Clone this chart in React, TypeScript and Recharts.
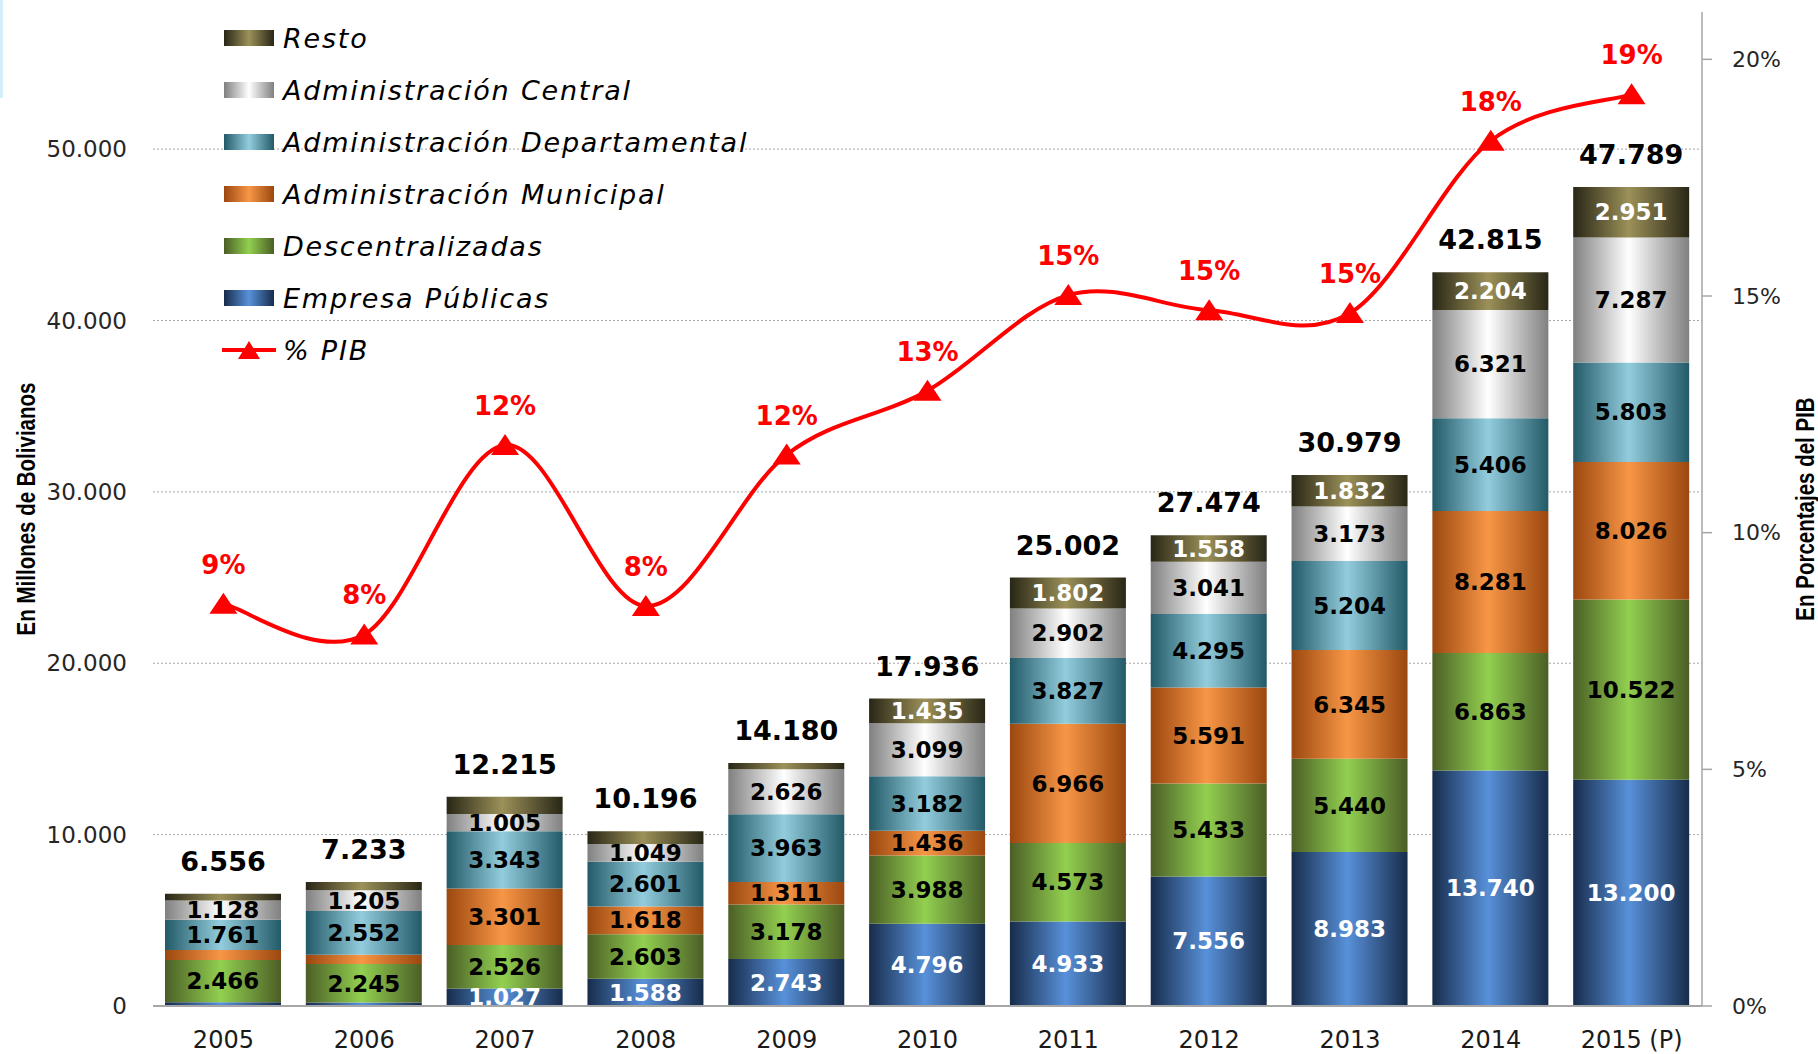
import { Bar, CartesianGrid, ComposedChart, LabelList, Legend, Line, XAxis, YAxis } from "recharts";

const years = ["2005", "2006", "2007", "2008", "2009", "2010", "2011", "2012", "2013", "2014", "2015 (P)"];

// millones de Bs
const empresa = [220, 200, 1027, 1588, 2743, 4796, 4933, 7556, 8983, 13740, 13200];
const descentralizadas = [2466, 2245, 2526, 2603, 3178, 3988, 4573, 5433, 5440, 6863, 10522];
const municipal = [580, 550, 3301, 1618, 1311, 1436, 6966, 5591, 6345, 8281, 8026];
const departamental = [1761, 2552, 3343, 2601, 3963, 3182, 3827, 4295, 5204, 5406, 5803];
const central = [1128, 1205, 1005, 1049, 2626, 3099, 2902, 3041, 3173, 6321, 7287];
const resto = [400, 480, 1013, 737, 359, 1435, 1802, 1558, 1832, 2204, 2951];
const totals = [6556, 7233, 12215, 10196, 14180, 17936, 25002, 27474, 30979, 42815, 47789];

// % del PIB
const pib = [8.5, 7.85, 11.85, 8.45, 11.65, 13.0, 15.02, 14.7, 14.64, 18.28, 19.26];

const leftMax = 58000;
const leftTicks = [0, 10000, 20000, 30000, 40000, 50000];
const rightTicks = [0, 5, 10, 15, 20];

// segments printed without a value label in the original
const unlabeled: Record<string, string[]> = {
  empresa: ["2005", "2006"],
  municipal: ["2005", "2006"],
  resto: ["2005", "2006", "2007", "2008", "2009"],
};

const series = [
  { key: "empresa", name: "Empresa Públicas", values: empresa, dark: "#172c4b", light: "#5891da", text: "#ffffff" },
  { key: "descentralizadas", name: "Descentralizadas", values: descentralizadas, dark: "#4b5e26", light: "#92d050", text: "#000000" },
  { key: "municipal", name: "Administración Municipal", values: municipal, dark: "#9b470f", light: "#f79646", text: "#000000" },
  { key: "departamental", name: "Administración Departamental", values: departamental, dark: "#235a68", light: "#93cddd", text: "#000000" },
  { key: "central", name: "Administración Central", values: central, dark: "#808080", light: "#ffffff", text: "#000000" },
  { key: "resto", name: "Resto", values: resto, dark: "#282616", light: "#9c9159", text: "#ffffff" },
];

const fmt = (v: number) => String(v).replace(/\B(?=(\d{3})+(?!\d))/g, ".");

const data = years.map((year, i) => {
  const row: Record<string, string | number | null> = { year, total: totals[i], pib: pib[i] };
  series.forEach((s) => {
    row[s.key] = s.values[i];
    row[`${s.key}Label`] = (unlabeled[s.key] || []).includes(year) ? null : fmt(s.values[i]);
  });
  return row;
});

// Excel-like smoothed line (Catmull-Rom through every point)
function smoothCurve(context: any) {
  let pts: number[][] = [];
  return {
    areaStart() {},
    areaEnd() {},
    lineStart() {
      pts = [];
    },
    point(x: number, y: number) {
      pts.push([+x, +y]);
    },
    lineEnd() {
      if (!pts.length) return;
      context.moveTo(pts[0][0], pts[0][1]);
      for (let i = 0; i < pts.length - 1; i++) {
        const p0 = pts[i - 1] || pts[i];
        const p1 = pts[i];
        const p2 = pts[i + 1];
        const p3 = pts[i + 2] || p2;
        context.bezierCurveTo(
          p1[0] + (p2[0] - p0[0]) / 6,
          p1[1] + (p2[1] - p0[1]) / 6,
          p2[0] - (p3[0] - p1[0]) / 6,
          p2[1] - (p3[1] - p1[1]) / 6,
          p2[0],
          p2[1]
        );
      }
    },
  };
}

function Triangle(props: any) {
  const { cx, cy } = props;
  if (cx == null || cy == null) return null;
  return <path d={`M${cx},${cy - 11}L${cx + 14},${cy + 10}L${cx - 14},${cy + 10}Z`} fill="#ff0000" />;
}

// condensed bold title, rotated to read bottom-up
function axisTitle(text: string, dx: number) {
  return (props: any) => {
    const vb = props.viewBox;
    const x = vb.x + dx;
    const y = vb.y + vb.height / 2;
    return (
      <text
        transform={`translate(${x} ${y}) rotate(-90) scale(0.82 1)`}
        textAnchor="middle"
        dominantBaseline="central"
        fontFamily="Liberation Sans, Arial, sans-serif"
        fontWeight="bold"
        fontSize={25}
        fill="#000"
      >
        {text}
      </text>
    );
  };
}

function LegendBox() {
  const rowStyle = { display: "flex", alignItems: "center", height: 52 };
  const textStyle = {
    fontFamily: "DejaVu Sans",
    fontStyle: "italic" as const,
    fontSize: 27,
    letterSpacing: 1.8,
    color: "#000",
    marginLeft: 9,
    whiteSpace: "nowrap" as const,
  };
  return (
    <div>
      {[...series].reverse().map((s) => (
        <div key={s.key} style={rowStyle}>
          <div
            style={{
              width: 50,
              height: 16,
              background: `linear-gradient(to right, ${s.dark}, ${s.light} 50%, ${s.dark})`,
            }}
          />
          <span style={textStyle}>{s.name}</span>
        </div>
      ))}
      <div style={rowStyle}>
        <svg width={50} height={24} style={{ overflow: "visible" }}>
          <line x1={-2} y1={12} x2={52} y2={12} stroke="#ff0000" strokeWidth={4} />
          <path d="M25,3L36,21L14,21Z" fill="#ff0000" />
        </svg>
        <span style={textStyle}>% PIB</span>
      </div>
    </div>
  );
}

export default function App() {
  return (
    <div style={{ position: "absolute", left: 0, top: 0, width: 1818, height: 1054, background: "#fff" }}>
      <div style={{ position: "absolute", left: 0, top: 0, width: 3, height: 98, background: "#d6eef9" }} />
      <ComposedChart width={1818} height={1054} data={data} margin={{ top: 12, right: 0, bottom: 0, left: 0 }}>
        <defs>
          {series.map((s) => (
            <linearGradient key={s.key} id={`g-${s.key}`} x1="0" y1="0" x2="1" y2="0">
              <stop offset="0%" stopColor={s.dark} />
              <stop offset="48%" stopColor={s.light} />
              <stop offset="100%" stopColor={s.dark} />
            </linearGradient>
          ))}
        </defs>
        <CartesianGrid
          yAxisId="left"
          vertical={false}
          stroke="#a6a6a6"
          strokeDasharray="2 2"
          horizontalCoordinatesGenerator={({ offset }: any) =>
            leftTicks.map((t) => offset.top + offset.height * (1 - t / leftMax))
          }
        />
        <XAxis
          dataKey="year"
          height={48}
          axisLine={{ stroke: "#a6a6a6", strokeWidth: 2 }}
          tickLine={false}
          tickSize={0}
          tickMargin={25}
          tick={{ fill: "#1a1a1a", fontSize: 24, fontFamily: "DejaVu Sans" }}
          interval={0}
        />
        <YAxis
          yAxisId="left"
          width={153}
          domain={[0, leftMax]}
          ticks={leftTicks}
          allowDataOverflow
          axisLine={false}
          tickLine={false}
          tickSize={0}
          tickMargin={26}
          tickFormatter={(v) => fmt(Number(v))}
          tick={{ fill: "#262626", fontSize: 23, fontFamily: "DejaVu Sans" }}
          label={{ content: axisTitle("En Millones de Bolivianos", 26) }}
        />
        <YAxis
          yAxisId="right"
          orientation="right"
          width={116}
          domain={[0, 21]}
          ticks={rightTicks}
          allowDataOverflow
          axisLine={{ stroke: "#a6a6a6", strokeWidth: 1.5 }}
          tickLine={{ stroke: "#a6a6a6", strokeWidth: 1.5 }}
          tickSize={10}
          tickMargin={20}
          tickFormatter={(v) => `${v}%`}
          tick={{ fill: "#262626", fontSize: 22, fontFamily: "DejaVu Sans" }}
          label={{ content: axisTitle("En Porcentajes del PIB", 103) }}
        />
        <Legend
          layout="vertical"
          align="center"
          verticalAlign="middle"
          wrapperStyle={{ left: 224, top: 12, width: 600 }}
          content={() => <LegendBox />}
        />
        {series.map((s) => (
          <Bar
            key={s.key}
            yAxisId="left"
            dataKey={s.key}
            name={s.name}
            stackId="gasto"
            barSize={116}
            fill={`url(#g-${s.key})`}
            isAnimationActive={false}
          >
            <LabelList
              dataKey={`${s.key}Label`}
              position="center"
              fill={s.text}
              fontSize={23}
              fontWeight="bold"
              fontFamily="DejaVu Sans"
            />
            {s.key === "resto" && (
              <LabelList
                dataKey="total"
                position="top"
                offset={23}
                formatter={(v: any) => fmt(Number(v))}
                fill="#000"
                fontSize={27}
                fontWeight="bold"
                fontFamily="DejaVu Sans"
              />
            )}
          </Bar>
        ))}
        <Line
          yAxisId="right"
          dataKey="pib"
          name="% PIB"
          type={smoothCurve as any}
          stroke="#ff0000"
          strokeWidth={4}
          dot={<Triangle />}
          activeDot={false}
          isAnimationActive={false}
        >
          <LabelList
            dataKey="pib"
            position="top"
            offset={30}
            formatter={(v: any) => `${Math.round(Number(v))}%`}
            fill="#ff0000"
            fontSize={26}
            fontWeight="bold"
            fontFamily="DejaVu Sans"
          />
        </Line>
      </ComposedChart>
    </div>
  );
}
